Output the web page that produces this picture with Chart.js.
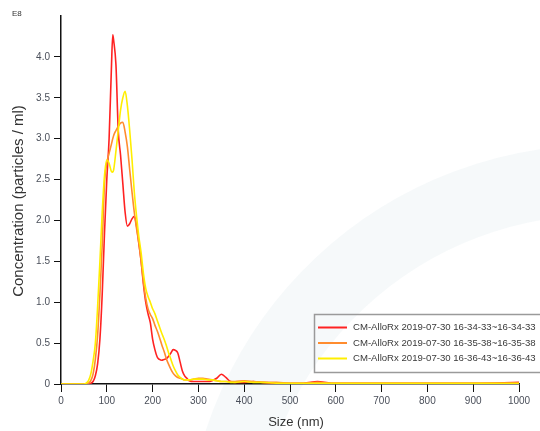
<!DOCTYPE html>
<html>
<head>
<meta charset="utf-8">
<script src="https://cdn.jsdelivr.net/npm/chart.js@4/dist/chart.umd.min.js"></script>
<style>
html,body{margin:0;padding:0;background:#fff;}
#wrap{position:relative;width:540px;height:431px;}
</style>
</head>
<body>
<div id="wrap"><canvas id="c" width="540" height="431"></canvas></div>
<script>
const sizes = [0,40,50,55,60,65,70,75,80,85,90,95,100,105,110,113,115,120,125,130,135,140,145,150,155,160,165,170,175,180,185,190,195,200,205,210,215,220,225,230,235,240,245,250,255,260,265,270,275,280,290,300,310,320,330,340,350,360,370,380,400,420,440,470,500,530,560,590,620,700,800,900,1000];

const red = [0,0,0,0,0,0.01,0.03,0.1,0.25,0.55,1.1,1.85,2.5,3.0,3.85,4.27,4.2,3.9,3.1,2.8,2.45,2.1,1.93,1.96,2.02,2.05,1.93,1.72,1.5,1.22,1.0,0.86,0.75,0.55,0.42,0.33,0.3,0.29,0.3,0.31,0.34,0.38,0.42,0.41,0.38,0.27,0.16,0.1,0.07,0.04,0.03,0.03,0.03,0.03,0.04,0.07,0.12,0.08,0.03,0.02,0.02,0.03,0.02,0.01,0.01,0.01,0.03,0.01,0.01,0.01,0.01,0.01,0.02];

const orange = [0,0,0,0,0.01,0.04,0.12,0.3,0.6,1.1,1.7,2.45,2.7,2.82,2.93,3.0,3.04,3.1,3.15,3.19,3.2,3.08,2.9,2.62,2.35,2.1,1.9,1.72,1.5,1.25,1.05,0.92,0.85,0.8,0.72,0.65,0.57,0.48,0.4,0.31,0.24,0.18,0.13,0.1,0.08,0.07,0.06,0.05,0.05,0.05,0.06,0.07,0.07,0.06,0.05,0.04,0.03,0.03,0.03,0.03,0.04,0.03,0.02,0.02,0.01,0.01,0.02,0.01,0.01,0.01,0.01,0.01,0.01];

const yellow = [0,0,0,0.01,0.04,0.12,0.28,0.5,0.95,1.5,2.1,2.55,2.74,2.7,2.6,2.59,2.62,2.85,3.1,3.35,3.5,3.58,3.4,3.1,2.75,2.35,2.05,1.8,1.6,1.35,1.17,1.07,1.0,0.92,0.86,0.78,0.7,0.62,0.55,0.47,0.38,0.3,0.22,0.16,0.11,0.08,0.06,0.05,0.05,0.05,0.06,0.06,0.06,0.05,0.05,0.04,0.03,0.03,0.02,0.02,0.03,0.02,0.02,0.01,0.01,0.01,0.01,0.01,0.01,0.01,0.01,0.01,0.01];

const seriesLabels = [
  "CM-AlloRx 2019-07-30 16-34-33~16-34-33",
  "CM-AlloRx 2019-07-30 16-35-38~16-35-38",
  "CM-AlloRx 2019-07-30 16-36-43~16-36-43"
];
const seriesColors = ["#ff2222", "#ff8c2e", "#ffee00"];
const yTicks = [0,0.5,1.0,1.5,2.0,2.5,3.0,3.5,4.0];
const xTicks = [0,100,200,300,400,500,600,700,800,900,1000];
const xTitle = "Size (nm)";
const yTitle = "Concentration (particles / ml)";
const unitLabel = "E8";

const FONT = '"Liberation Sans", Arial, sans-serif';

function pts(vals){ return sizes.map((s,i)=>({x:s,y:vals[i]})); }

const decoPlugin = {
  id:'deco',
  beforeDraw(chart){
    const ctx = chart.ctx;
    ctx.save();
    ctx.fillStyle = '#fff';
    ctx.fillRect(0,0,chart.width,chart.height);
    // faint watermark band
    ctx.strokeStyle = 'rgba(232,239,242,0.4)';
    ctx.lineWidth = 70;
    ctx.beginPath();
    ctx.arc(600, 560, 380, Math.PI*1.02, Math.PI*1.5);
    ctx.stroke();
    ctx.restore();
  },
  afterDraw(chart){
    const ctx = chart.ctx;
    ctx.save();
    // legend
    ctx.strokeStyle = '#9a9a9a';
    ctx.lineWidth = 1.5;
    ctx.strokeRect(314.5, 314.5, 240, 58);
    ctx.font = '9.6px ' + FONT;
    ctx.textBaseline = 'middle';
    ctx.textAlign = 'left';
    chart.data.datasets.forEach((ds,i)=>{
      const y = 327.5 + i*15.5;
      ctx.strokeStyle = ds.borderColor;
      ctx.lineWidth = 2;
      ctx.beginPath(); ctx.moveTo(318,y); ctx.lineTo(347,y); ctx.stroke();
      ctx.fillStyle = '#3a3a3a';
      ctx.fillText(ds.label, 353, y);
    });
    // unit
    ctx.fillStyle = '#333';
    ctx.font = '8px ' + FONT;
    ctx.fillText(unitLabel, 12, 14);
    // axis titles
    ctx.fillStyle = '#333';
    ctx.font = '13px ' + FONT;
    ctx.textAlign = 'center';
    ctx.fillText(xTitle, 296, 422);
    ctx.save();
    ctx.translate(19, 201);
    ctx.rotate(-Math.PI/2);
    ctx.font = '15px ' + FONT;
    ctx.fillText(yTitle, 0, 0);
    ctx.restore();
    ctx.restore();
  }
};

new Chart(document.getElementById('c'), {
  type:'line',
  data:{
    datasets:[
      {label:seriesLabels[0], data:pts(red), borderColor:seriesColors[0], order:2},
      {label:seriesLabels[1], data:pts(orange), borderColor:seriesColors[1], order:1},
      {label:seriesLabels[2], data:pts(yellow), borderColor:seriesColors[2], order:0}
    ]
  },
  options:{
    responsive:false,
    animation:false,
    events:[],
    layout:{padding:{top:16,right:21,left:0,bottom:0}},
    elements:{
      point:{radius:0},
      line:{borderWidth:1.6, cubicInterpolationMode:'monotone', fill:false}
    },
    plugins:{legend:{display:false}, tooltip:{enabled:false}},
    scales:{
      x:{
        type:'linear', min:0, max:1000,
        afterBuildTicks(s){ s.ticks = xTicks.map(v=>({value:v})); },
        afterFit(s){ s.height = 47; },
        grid:{display:true, drawOnChartArea:false, drawTicks:true, tickLength:8, color:'#111', lineWidth:1},
        border:{display:true, color:'#111', width:1.5},
        ticks:{font:{size:10, family:FONT}, color:'#4a4f5a', padding:3, maxRotation:0,
          callback(v){ return String(v); }},
        title:{display:false}
      },
      y:{
        type:'linear', min:0, max:4.5,
        afterBuildTicks(s){ s.ticks = yTicks.map(v=>({value:v})); },
        afterFit(s){ s.width = 61; },
        grid:{display:true, drawOnChartArea:false, drawTicks:true, tickLength:7, color:'#111', lineWidth:1},
        border:{display:true, color:'#111', width:1.5},
        ticks:{font:{size:10, family:FONT}, color:'#4a4f5a', padding:4,
          callback(v){ return v===0 ? '0' : v.toFixed(1); }},
        title:{display:false}
      }
    }
  },
  plugins:[decoPlugin]
});
</script>
</body>
</html>
